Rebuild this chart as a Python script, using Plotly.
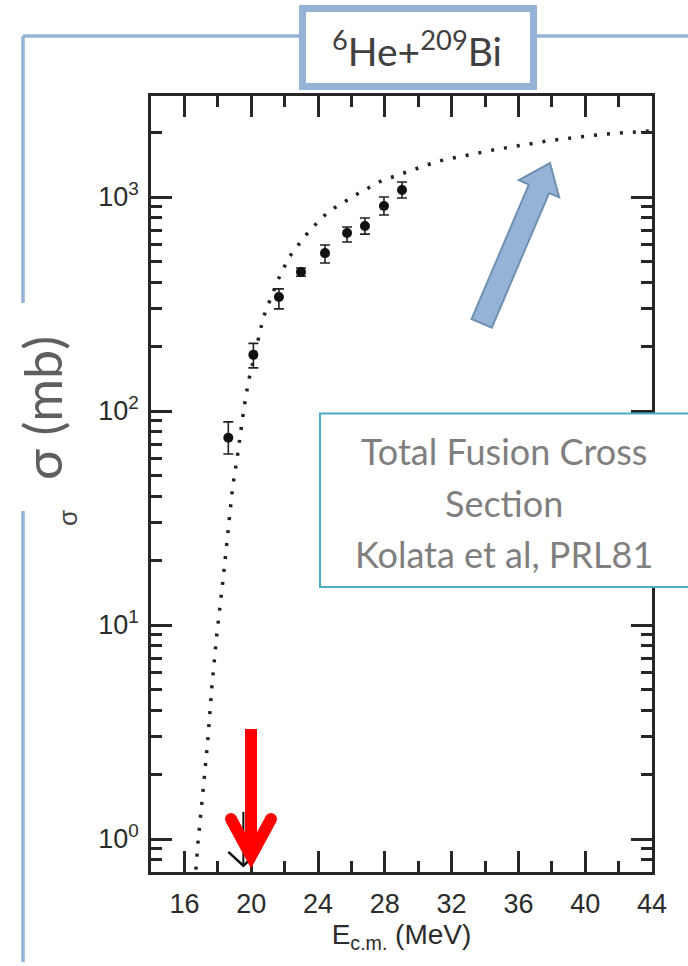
import plotly.graph_objects as go

# Measured total fusion cross sections, 6He + 209Bi
energy = [18.63, 20.13, 21.66, 22.98, 24.42, 25.74, 26.81, 27.95, 29.03]
sigma = [75, 183, 341, 446, 547, 679, 732, 908, 1079]
sigma_hi = [89, 207, 372, 466, 597, 724, 798, 1000, 1175]
sigma_lo = [63, 159, 300, 426, 492, 616, 671, 824, 989]

# Upper limit below the barrier (drawn as a down arrow)
ul_energy = [19.53]
ul_sigma = [1.34]
ul_arrow_end = [0.75]

# Calculated cross section (dotted curve)
calc_energy = [16.69, 16.81, 17.11, 17.41, 17.65, 17.95, 18.31, 18.63, 18.89,
               19.13, 19.33, 19.57, 19.83, 20.53, 20.73, 21.03, 21.62, 21.96,
               22.32, 22.82, 23.32, 23.82, 24.42, 25.0, 25.72, 26.42, 27.81,
               29.31, 30.81, 31.50, 34.70, 37.90, 40.99, 43.38, 44.0]
calc_sigma = [0.72, 0.96, 1.66, 2.96, 5.2, 9.2, 16.2, 28.8, 44.3,
              58.3, 78.2, 103.5, 137, 238, 274, 316, 412, 468,
              530, 597, 670, 740, 824, 891, 968, 1040, 1192,
              1313, 1436, 1489, 1671, 1836, 1963, 2023, 2040]

x_ticks = [16, 20, 24, 28, 32, 36, 40, 44]
y_ticks = [1, 10, 100, 1000]
y_ticktext = ["10<sup>0</sup>", "10<sup>1</sup>", "10<sup>2</sup>", "10<sup>3</sup>"]
y_minor = [m * 10 ** k for k in range(-1, 4) for m in range(2, 10)]

W, H = 688, 966
L, R, T, B = 151, 652, 96, 872


def px(x):
    return (x - L) / (R - L)


def py(y):
    return (B - y) / (B - T)


def path(points, close=True):
    s = "M " + " L ".join(f"{px(x):.5f},{py(y):.5f}" for x, y in points)
    return s + (" Z" if close else "")


FRAME = "#262626"
SLATE = "#95b3d7"

fig = go.Figure()

fig.add_trace(go.Scatter(
    x=calc_energy, y=calc_sigma, mode="lines",
    line=dict(color="#222222", width=3.5, dash="3px,10px"),
    hoverinfo="skip", showlegend=False))

fig.add_trace(go.Scatter(
    x=energy, y=sigma, mode="markers",
    marker=dict(color="#111111", size=10),
    error_y=dict(type="data", symmetric=False,
                 array=[h - s for h, s in zip(sigma_hi, sigma)],
                 arrayminus=[s - l for s, l in zip(sigma, sigma_lo)],
                 color="#222222", thickness=1.6, width=5),
    showlegend=False))

# upper-limit arrow: stem plus chevron head at the lower end
for e, s0, s1 in zip(ul_energy, ul_sigma, ul_arrow_end):
    fig.add_trace(go.Scatter(x=[e, e], y=[s0, s1], mode="lines",
                             line=dict(color="#111111", width=2),
                             hoverinfo="skip", showlegend=False))
    fig.add_trace(go.Scatter(x=[e - 0.9, e, e + 0.9],
                             y=[s1 * 10 ** 0.065, s1, s1 * 10 ** 0.065],
                             mode="lines", line=dict(color="#111111", width=2.5),
                             hoverinfo="skip", showlegend=False))

axis_common = dict(showline=True, linewidth=2.5, linecolor=FRAME, mirror="allticks",
                   ticks="inside", tickwidth=2.5, tickcolor=FRAME, ticklen=21,
                   showgrid=False, zeroline=False,
                   tickfont=dict(family="Liberation Sans, Arial", size=27, color="#2b2b2b"))

fig.update_xaxes(range=[14, 44], tickvals=x_ticks, ticklabelstandoff=6,
                 minor=dict(ticks="inside", ticklen=11, tickwidth=2.5, tickcolor=FRAME,
                            tick0=0, dtick=2),
                 title=dict(text="E<sub>c.m.</sub> (MeV)", standoff=4,
                            font=dict(family="Liberation Sans, Arial", size=28, color="#2b2b2b")),
                 **axis_common)
fig.update_yaxes(type="log", range=[-0.154, 3.472], tickvals=y_ticks, ticktext=y_ticktext,
                 ticklabelstandoff=4,
                 minor=dict(ticks="inside", ticklen=11, tickwidth=2.5, tickcolor=FRAME,
                            tickvals=y_minor),
                 **axis_common)

shapes = []
# slide frame lines
shapes.append(dict(type="line", xref="paper", yref="paper",
                   x0=px(23), y0=py(36), x1=px(700), y1=py(36),
                   line=dict(color=SLATE, width=3.5), layer="above"))
shapes.append(dict(type="line", xref="paper", yref="paper",
                   x0=px(23), y0=py(36), x1=px(23), y1=py(303),
                   line=dict(color=SLATE, width=3.5), layer="above"))
shapes.append(dict(type="line", xref="paper", yref="paper",
                   x0=px(23), y0=py(511), x1=px(23), y1=py(962),
                   line=dict(color=SLATE, width=3.5), layer="above"))
# title box
shapes.append(dict(type="rect", xref="paper", yref="paper",
                   x0=px(302.5), y0=py(8.5), x1=px(533.5), y1=py(86.5),
                   line=dict(color=SLATE, width=7), fillcolor="white", layer="above"))
# reference note box
shapes.append(dict(type="rect", xref="paper", yref="paper",
                   x0=px(320), y0=py(413.5), x1=px(720), y1=py(587),
                   line=dict(color="#4bacc6", width=2), fillcolor="white", layer="above"))
# blue block arrow
shapes.append(dict(type="path", xref="paper", yref="paper",
                   path=path([(471.6, 319), (491.8, 327.6), (549.1, 193.1), (559.2, 197.4),
                              (550, 163), (518.8, 180.2), (528.9, 184.5)]),
                   line=dict(color="#7191b1", width=2), fillcolor="#95b3d7", layer="above"))
# red pointer arrow
RED = "#ff0000"
shapes.append(dict(type="line", xref="paper", yref="paper",
                   x0=px(251), y0=py(729), x1=px(251), y1=py(852),
                   line=dict(color=RED, width=12), layer="above"))
shapes.append(dict(type="path", xref="paper", yref="paper",
                   path=path([(231, 819), (251, 856), (271, 819)], close=False),
                   line=dict(color=RED, width=12), layer="above"))
for cx in (231, 271):
    shapes.append(dict(type="circle", xref="paper", yref="paper",
                       x0=px(cx - 6), y0=py(819 - 6), x1=px(cx + 6), y1=py(819 + 6),
                       line=dict(width=0), fillcolor=RED, layer="above"))

annotations = [
    dict(text="<sup>6</sup>He+<sup>209</sup>Bi", x=px(417), y=py(48), xref="paper", yref="paper",
         showarrow=False, font=dict(family="Lato", size=39, color="#404040"),
         xanchor="center", yanchor="middle"),
    dict(text="σ (mb)", x=px(42), y=py(408), xref="paper", yref="paper", textangle=-90,
         showarrow=False, font=dict(family="Lato", size=52, color="#5f5f5f"),
         xanchor="center", yanchor="middle"),
    dict(text="σ", x=px(68), y=py(518), xref="paper", yref="paper", textangle=-90,
         showarrow=False, font=dict(family="Liberation Sans, Arial", size=26, color="#444444"),
         xanchor="center", yanchor="middle"),
]
for line_text, yc in [("Total Fusion Cross", 451), ("Section", 503), ("Kolata et al, PRL81", 554)]:
    annotations.append(dict(text=line_text, x=px(504), y=py(yc), xref="paper", yref="paper",
                            showarrow=False, font=dict(family="Lato", size=36, color="#7f7f7f"),
                            xanchor="center", yanchor="middle"))

fig.update_layout(width=W, height=H, margin=dict(l=L, r=W - R, t=T, b=H - B),
                  paper_bgcolor="white", plot_bgcolor="white",
                  shapes=shapes, annotations=annotations, showlegend=False)

fig.write_html("out.html")
